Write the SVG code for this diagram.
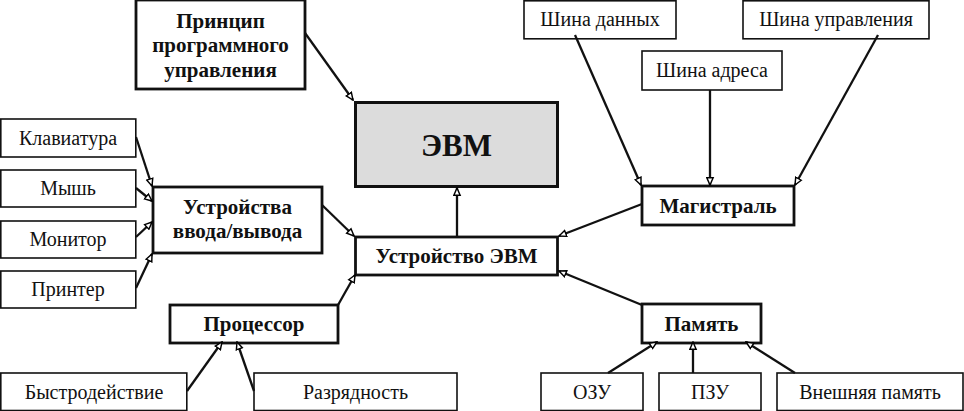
<svg xmlns="http://www.w3.org/2000/svg" width="964" height="411" viewBox="0 0 964 411">
<defs>
<marker id="ah" viewBox="0 0 10 10" refX="9" refY="5" markerWidth="9" markerHeight="9" markerUnits="userSpaceOnUse" orient="auto">
<path d="M1,1.5 L9,5 L1,8.5 Z" fill="#fff" stroke="#000" stroke-width="1.6"/>
</marker>
<style>
.thin{fill:#fff;stroke:#111;stroke-width:1.6}
.thick{fill:#fff;stroke:#111;stroke-width:2.8}
.main{fill:#dcdcdc;stroke:#111;stroke-width:3}
text{font-family:"Liberation Serif","Times New Roman",serif;fill:#111;text-anchor:middle}
.n{font-size:20px}
.b{font-size:21px;font-weight:bold}
.big{font-size:31px;font-weight:bold}
.c line{stroke:#111;stroke-width:2.3;marker-end:url(#ah)}
</style>
</defs>
<g id="principle"><rect class="thick" x="136" y="0" width="169" height="89"/>
<text class="b" x="220.5" y="28">Принцип</text><text class="b" x="220.5" y="52">программного</text><text class="b" x="220.5" y="77">управления</text></g>
<g id="evm"><rect class="main" x="355.5" y="102.5" width="202" height="84"/><text class="big" x="456.5" y="156">ЭВМ</text></g>
<g id="klav"><rect class="thin" x="0.8" y="119" width="135" height="38"/><text class="n" x="68" y="145">Клавиатура</text></g>
<g id="mouse"><rect class="thin" x="0.8" y="170" width="135" height="37"/><text class="n" x="68" y="195">Мышь</text></g>
<g id="monitor"><rect class="thin" x="0.8" y="221" width="135" height="37"/><text class="n" x="68" y="246">Монитор</text></g>
<g id="printer"><rect class="thin" x="0.8" y="271" width="135" height="37"/><text class="n" x="68" y="296">Принтер</text></g>
<g id="io"><rect class="thick" x="153" y="187" width="169" height="66"/>
<text class="b" x="237.5" y="214">Устройства</text><text class="b" x="237.5" y="238">ввода/вывода</text></g>
<g id="device"><rect class="thick" x="355.5" y="237" width="202" height="38"/><text class="b" x="456.5" y="263">Устройство ЭВМ</text></g>
<g id="cpu"><rect class="thick" x="170" y="305" width="168" height="38"/><text class="b" x="254" y="331">Процессор</text></g>
<g id="speed"><rect class="thin" x="0.8" y="373" width="186" height="37.5"/><text class="n" x="94" y="399">Быстродействие</text></g>
<g id="width"><rect class="thin" x="254" y="373" width="203" height="37.5"/><text class="n" x="355.5" y="399">Разрядность</text></g>
<g id="bus-data"><rect class="thin" x="524" y="0.8" width="152" height="38"/><text class="n" x="600" y="26">Шина данных</text></g>
<g id="bus-ctrl"><rect class="thin" x="743" y="0.8" width="186" height="38"/><text class="n" x="836" y="26">Шина управления</text></g>
<g id="bus-addr"><rect class="thin" x="642" y="51" width="140" height="39"/><text class="n" x="712" y="77">Шина адреса</text></g>
<g id="bus"><rect class="thick" x="642" y="186" width="152" height="39"/><text class="b" x="718" y="213">Магистраль</text></g>
<g id="memory"><rect class="thick" x="642" y="304" width="119" height="39"/><text class="b" x="701.5" y="331">Память</text></g>
<g id="ram"><rect class="thin" x="541" y="373" width="102" height="37.5"/><text class="n" x="592" y="399">ОЗУ</text></g>
<g id="rom"><rect class="thin" x="659" y="373" width="102" height="37.5"/><text class="n" x="710" y="399">ПЗУ</text></g>
<g id="ext"><rect class="thin" x="777" y="373" width="186" height="37.5"/><text class="n" x="870" y="399">Внешняя память</text></g>
<g id="connectors" class="c">
<line x1="305" y1="33" x2="353" y2="100"/>
<line x1="136" y1="137" x2="152" y2="186"/>
<line x1="136" y1="188" x2="152" y2="201"/>
<line x1="136" y1="237" x2="152" y2="222"/>
<line x1="136" y1="288" x2="152" y2="254"/>
<line x1="322" y1="205" x2="354" y2="236"/>
<line x1="338" y1="305" x2="355" y2="275"/>
<line x1="187" y1="391" x2="222" y2="342"/>
<line x1="254" y1="391" x2="237" y2="342"/>
<line x1="457" y1="237" x2="457" y2="188"/>
<line x1="642" y1="204" x2="559" y2="236"/>
<line x1="642" y1="305" x2="559" y2="271"/>
<line x1="575" y1="35" x2="641" y2="185"/>
<line x1="710" y1="90" x2="710" y2="185"/>
<line x1="878" y1="35" x2="795" y2="185"/>
<line x1="608" y1="373" x2="657" y2="342"/>
<line x1="693" y1="373" x2="693" y2="342"/>
<line x1="795" y1="373" x2="746" y2="342"/>
</g>
</svg>
